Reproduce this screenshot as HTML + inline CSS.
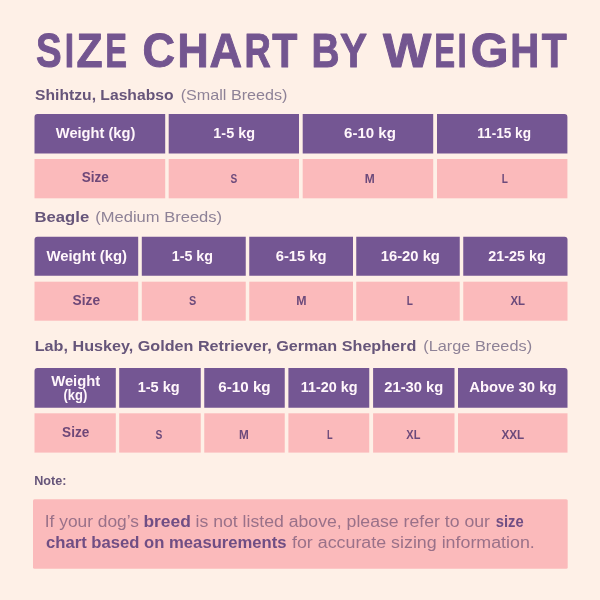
<!DOCTYPE html>
<html><head><meta charset="utf-8"><title>Size Chart By Weight</title>
<style>
html,body{margin:0;padding:0;background:#FEF0E7;width:600px;height:600px;overflow:hidden}
svg{display:block;will-change:transform}
text{font-family:"Liberation Sans",sans-serif;white-space:pre}
</style></head><body>
<svg width="600" height="600" viewBox="0 0 600 600">
<rect width="600" height="600" fill="#FEF0E7"/>
<path d="M37.5,114 H165.2 V153.5 H34.5 V117 Q34.5,114 37.5,114 Z" fill="#745693"/>
<rect x="34.5" y="159" width="130.7" height="39.3" fill="#FBBABB"/>
<path d="M168.7,114 H299 V153.5 H168.7 V114 Z" fill="#745693"/>
<rect x="168.7" y="159" width="130.3" height="39.3" fill="#FBBABB"/>
<path d="M302.7,114 H433.2 V153.5 H302.7 V114 Z" fill="#745693"/>
<rect x="302.7" y="159" width="130.5" height="39.3" fill="#FBBABB"/>
<path d="M437,114 H564.4 Q567.4,114 567.4,117 V153.5 H437 V114 Z" fill="#745693"/>
<rect x="437" y="159" width="130.4" height="39.3" fill="#FBBABB"/>
<path d="M37.5,236.8 H138.2 V275.8 H34.5 V239.8 Q34.5,236.8 37.5,236.8 Z" fill="#745693"/>
<rect x="34.5" y="281.7" width="103.7" height="39" fill="#FBBABB"/>
<path d="M141.8,236.8 H245.75 V275.8 H141.8 V236.8 Z" fill="#745693"/>
<rect x="141.8" y="281.7" width="103.95" height="39" fill="#FBBABB"/>
<path d="M249.25,236.8 H353 V275.8 H249.25 V236.8 Z" fill="#745693"/>
<rect x="249.25" y="281.7" width="103.75" height="39" fill="#FBBABB"/>
<path d="M356.25,236.8 H459.75 V275.8 H356.25 V236.8 Z" fill="#745693"/>
<rect x="356.25" y="281.7" width="103.5" height="39" fill="#FBBABB"/>
<path d="M463.25,236.8 H564.5 Q567.5,236.8 567.5,239.8 V275.8 H463.25 V236.8 Z" fill="#745693"/>
<rect x="463.25" y="281.7" width="104.25" height="39" fill="#FBBABB"/>
<path d="M37.5,368 H115.8 V407.8 H34.5 V371 Q34.5,368 37.5,368 Z" fill="#745693"/>
<rect x="34.5" y="413.3" width="81.3" height="39.3" fill="#FBBABB"/>
<path d="M119.2,368 H200.75 V407.8 H119.2 V368 Z" fill="#745693"/>
<rect x="119.2" y="413.3" width="81.55" height="39.3" fill="#FBBABB"/>
<path d="M204.25,368 H284.75 V407.8 H204.25 V368 Z" fill="#745693"/>
<rect x="204.25" y="413.3" width="80.5" height="39.3" fill="#FBBABB"/>
<path d="M288.4,368 H369.25 V407.8 H288.4 V368 Z" fill="#745693"/>
<rect x="288.4" y="413.3" width="80.85" height="39.3" fill="#FBBABB"/>
<path d="M373.1,368 H454.5 V407.8 H373.1 V368 Z" fill="#745693"/>
<rect x="373.1" y="413.3" width="81.4" height="39.3" fill="#FBBABB"/>
<path d="M458,368 H564.5 Q567.5,368 567.5,371 V407.8 H458 V368 Z" fill="#745693"/>
<rect x="458" y="413.3" width="109.5" height="39.3" fill="#FBBABB"/>
<rect x="33" y="499.3" width="534.7" height="69.4" rx="1.5" fill="#FBBABB"/>
<text x="36" y="67.2" font-size="48.0" font-weight="700" fill="#735590" textLength="25.61" lengthAdjust="spacingAndGlyphs" stroke="#735590" stroke-width="1.0" stroke-linejoin="round">S</text>
<text x="64.7" y="67.2" font-size="48.0" font-weight="700" fill="#735590" textLength="9.34" lengthAdjust="spacingAndGlyphs" stroke="#735590" stroke-width="1.0" stroke-linejoin="round">I</text>
<text x="76.61" y="67.2" font-size="48.0" font-weight="700" fill="#735590" textLength="26.06" lengthAdjust="spacingAndGlyphs" stroke="#735590" stroke-width="1.0" stroke-linejoin="round">Z</text>
<text x="105.16" y="67.2" font-size="48.0" font-weight="700" fill="#735590" textLength="21.72" lengthAdjust="spacingAndGlyphs" stroke="#735590" stroke-width="1.0" stroke-linejoin="round">E</text>
<text x="142.46" y="67.2" font-size="48.0" font-weight="700" fill="#735590" textLength="32.56" lengthAdjust="spacingAndGlyphs" stroke="#735590" stroke-width="1.0" stroke-linejoin="round">C</text>
<text x="177.51" y="67.2" font-size="48.0" font-weight="700" fill="#735590" textLength="31.08" lengthAdjust="spacingAndGlyphs" stroke="#735590" stroke-width="1.0" stroke-linejoin="round">H</text>
<text x="209.56" y="67.2" font-size="48.0" font-weight="700" fill="#735590" textLength="32.56" lengthAdjust="spacingAndGlyphs" stroke="#735590" stroke-width="1.0" stroke-linejoin="round">A</text>
<text x="244.53" y="67.2" font-size="48.0" font-weight="700" fill="#735590" textLength="26.28" lengthAdjust="spacingAndGlyphs" stroke="#735590" stroke-width="1.0" stroke-linejoin="round">R</text>
<text x="272.2" y="67.2" font-size="48.0" font-weight="700" fill="#735590" textLength="25.07" lengthAdjust="spacingAndGlyphs" stroke="#735590" stroke-width="1.0" stroke-linejoin="round">T</text>
<text x="311.38" y="67.2" font-size="48.0" font-weight="700" fill="#735590" textLength="27.96" lengthAdjust="spacingAndGlyphs" stroke="#735590" stroke-width="1.0" stroke-linejoin="round">B</text>
<text x="340" y="67.2" font-size="48.0" font-weight="700" fill="#735590" textLength="27.01" lengthAdjust="spacingAndGlyphs" stroke="#735590" stroke-width="1.0" stroke-linejoin="round">Y</text>
<text x="383" y="67.2" font-size="48.0" font-weight="700" fill="#735590" textLength="48.26" lengthAdjust="spacingAndGlyphs" stroke="#735590" stroke-width="1.0" stroke-linejoin="round">W</text>
<text x="434.35" y="67.2" font-size="48.0" font-weight="700" fill="#735590" textLength="20.81" lengthAdjust="spacingAndGlyphs" stroke="#735590" stroke-width="1.0" stroke-linejoin="round">E</text>
<text x="457.6" y="67.2" font-size="48.0" font-weight="700" fill="#735590" textLength="9.34" lengthAdjust="spacingAndGlyphs" stroke="#735590" stroke-width="1.0" stroke-linejoin="round">I</text>
<text x="470.89" y="67.2" font-size="48.0" font-weight="700" fill="#735590" textLength="37.78" lengthAdjust="spacingAndGlyphs" stroke="#735590" stroke-width="1.0" stroke-linejoin="round">G</text>
<text x="510.19" y="67.2" font-size="48.0" font-weight="700" fill="#735590" textLength="29.05" lengthAdjust="spacingAndGlyphs" stroke="#735590" stroke-width="1.0" stroke-linejoin="round">H</text>
<text x="541.8" y="67.2" font-size="48.0" font-weight="700" fill="#735590" textLength="24.97" lengthAdjust="spacingAndGlyphs" stroke="#735590" stroke-width="1.0" stroke-linejoin="round">T</text>
<text x="35.1" y="99.7" font-size="15.2" font-weight="700" fill="#66557A" textLength="138.39" lengthAdjust="spacingAndGlyphs">Shihtzu, Lashabso</text>
<text x="180.7" y="99.7" font-size="15.0" font-weight="400" fill="#8E8297" textLength="106.79" lengthAdjust="spacingAndGlyphs">(Small Breeds)</text>
<text x="34.5" y="221.6" font-size="15.2" font-weight="700" fill="#66557A" textLength="54.74" lengthAdjust="spacingAndGlyphs">Beagle</text>
<text x="95.25" y="221.6" font-size="15.0" font-weight="400" fill="#8E8297" textLength="126.84" lengthAdjust="spacingAndGlyphs">(Medium Breeds)</text>
<text x="34.74" y="351.3" font-size="15.2" font-weight="700" fill="#66557A" textLength="381.56" lengthAdjust="spacingAndGlyphs">Lab, Huskey, Golden Retriever, German Shepherd</text>
<text x="423.3" y="351.3" font-size="15.0" font-weight="400" fill="#8E8297" textLength="108.79" lengthAdjust="spacingAndGlyphs">(Large Breeds)</text>
<text x="55.8" y="137.8" font-size="15.3" font-weight="700" fill="#FFF6FB" textLength="79.59" lengthAdjust="spacingAndGlyphs">Weight (kg)</text>
<text x="213.3" y="137.8" font-size="15.3" font-weight="700" fill="#FFF6FB" textLength="41.72" lengthAdjust="spacingAndGlyphs">1-5 kg</text>
<text x="344" y="137.8" font-size="15.3" font-weight="700" fill="#FFF6FB" textLength="51.94" lengthAdjust="spacingAndGlyphs">6-10 kg</text>
<text x="477.3" y="137.8" font-size="15.3" font-weight="700" fill="#FFF6FB" textLength="53.71" lengthAdjust="spacingAndGlyphs">11-15 kg</text>
<text x="81.7" y="182.4" font-size="14.6" font-weight="700" fill="#6E4878" textLength="27.11" lengthAdjust="spacingAndGlyphs">Size</text>
<text x="230.4" y="182.7" font-size="13.2" font-weight="700" fill="#6C4A7B" textLength="6.74" lengthAdjust="spacingAndGlyphs">S</text>
<text x="364.8" y="182.7" font-size="13.2" font-weight="700" fill="#6C4A7B" textLength="9.99" lengthAdjust="spacingAndGlyphs">M</text>
<text x="501.8" y="182.7" font-size="13.2" font-weight="700" fill="#6C4A7B" textLength="6.14" lengthAdjust="spacingAndGlyphs">L</text>
<text x="46.4" y="260.8" font-size="15.3" font-weight="700" fill="#FFF6FB" textLength="80.69" lengthAdjust="spacingAndGlyphs">Weight (kg)</text>
<text x="171.7" y="260.8" font-size="15.3" font-weight="700" fill="#FFF6FB" textLength="41.32" lengthAdjust="spacingAndGlyphs">1-5 kg</text>
<text x="275.7" y="260.8" font-size="15.3" font-weight="700" fill="#FFF6FB" textLength="50.93" lengthAdjust="spacingAndGlyphs">6-15 kg</text>
<text x="380.7" y="260.8" font-size="15.3" font-weight="700" fill="#FFF6FB" textLength="59.23" lengthAdjust="spacingAndGlyphs">16-20 kg</text>
<text x="488.3" y="260.8" font-size="15.3" font-weight="700" fill="#FFF6FB" textLength="57.42" lengthAdjust="spacingAndGlyphs">21-25 kg</text>
<text x="72.6" y="305.4" font-size="14.6" font-weight="700" fill="#6E4878" textLength="27.51" lengthAdjust="spacingAndGlyphs">Size</text>
<text x="188.9" y="305.2" font-size="13.2" font-weight="700" fill="#6C4A7B" textLength="7.23" lengthAdjust="spacingAndGlyphs">S</text>
<text x="296.2" y="305.2" font-size="13.2" font-weight="700" fill="#6C4A7B" textLength="10.29" lengthAdjust="spacingAndGlyphs">M</text>
<text x="406.8" y="305.2" font-size="13.2" font-weight="700" fill="#6C4A7B" textLength="6.14" lengthAdjust="spacingAndGlyphs">L</text>
<text x="510.4" y="305.2" font-size="13.2" font-weight="700" fill="#6C4A7B" textLength="14.55" lengthAdjust="spacingAndGlyphs">XL</text>
<text x="51.2" y="385.5" font-size="14.3" font-weight="700" fill="#FFF6FB" textLength="49.05" lengthAdjust="spacingAndGlyphs">Weight</text>
<text x="63.5" y="399.9" font-size="14.3" font-weight="700" fill="#FFF6FB" textLength="23.78" lengthAdjust="spacingAndGlyphs">(kg)</text>
<text x="137.7" y="392.4" font-size="15.3" font-weight="700" fill="#FFF6FB" textLength="42.03" lengthAdjust="spacingAndGlyphs">1-5 kg</text>
<text x="218.3" y="392.4" font-size="15.3" font-weight="700" fill="#FFF6FB" textLength="52.34" lengthAdjust="spacingAndGlyphs">6-10 kg</text>
<text x="300.7" y="392.4" font-size="15.3" font-weight="700" fill="#FFF6FB" textLength="56.92" lengthAdjust="spacingAndGlyphs">11-20 kg</text>
<text x="384.3" y="392.4" font-size="15.3" font-weight="700" fill="#FFF6FB" textLength="59.03" lengthAdjust="spacingAndGlyphs">21-30 kg</text>
<text x="469.2" y="392.4" font-size="15.3" font-weight="700" fill="#FFF6FB" textLength="87.33" lengthAdjust="spacingAndGlyphs">Above 30 kg</text>
<text x="62.1" y="437" font-size="14.6" font-weight="700" fill="#6E4878" textLength="27.21" lengthAdjust="spacingAndGlyphs">Size</text>
<text x="155.5" y="438.9" font-size="13.2" font-weight="700" fill="#6C4A7B" textLength="6.84" lengthAdjust="spacingAndGlyphs">S</text>
<text x="239.1" y="438.9" font-size="13.2" font-weight="700" fill="#6C4A7B" textLength="9.79" lengthAdjust="spacingAndGlyphs">M</text>
<text x="326.9" y="438.9" font-size="13.2" font-weight="700" fill="#6C4A7B" textLength="5.64" lengthAdjust="spacingAndGlyphs">L</text>
<text x="406.3" y="438.9" font-size="13.2" font-weight="700" fill="#6C4A7B" textLength="14.05" lengthAdjust="spacingAndGlyphs">XL</text>
<text x="501.5" y="438.9" font-size="13.2" font-weight="700" fill="#6C4A7B" textLength="22.75" lengthAdjust="spacingAndGlyphs">XXL</text>
<text x="34.25" y="484.7" font-size="12.9" font-weight="700" fill="#66557A" textLength="32.24" lengthAdjust="spacingAndGlyphs">Note:</text>
<text x="44.79" y="527.2" font-size="15.6" font-weight="400" fill="#9A7189" textLength="94.19" lengthAdjust="spacingAndGlyphs">If your dog’s</text>
<text x="143.42" y="527.2" font-size="16.2" font-weight="700" fill="#704E84" textLength="47.43" lengthAdjust="spacingAndGlyphs">breed</text>
<text x="195.47" y="527.2" font-size="15.6" font-weight="400" fill="#9A7189" textLength="294.45" lengthAdjust="spacingAndGlyphs">is not listed above, please refer to our</text>
<text x="495.8" y="527.2" font-size="16.2" font-weight="700" fill="#704E84" textLength="27.9" lengthAdjust="spacingAndGlyphs">size</text>
<text x="46" y="548.2" font-size="16.2" font-weight="700" fill="#704E84" textLength="240.6" lengthAdjust="spacingAndGlyphs">chart based on measurements</text>
<text x="292" y="548.2" font-size="15.6" font-weight="400" fill="#9A7189" textLength="242.82" lengthAdjust="spacingAndGlyphs">for accurate sizing information.</text>
</svg>
</body></html>
